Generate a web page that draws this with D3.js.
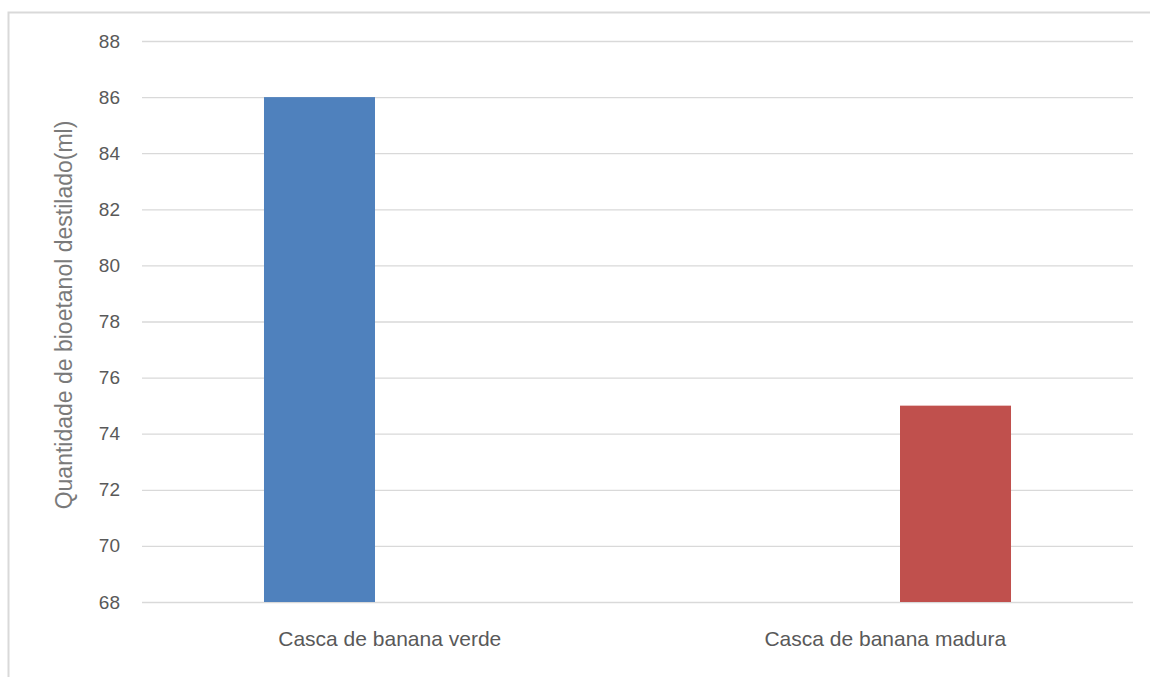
<!DOCTYPE html>
<html>
<head>
<meta charset="utf-8">
<script src="https://cdn.jsdelivr.net/npm/d3@7"></script>
<style>
  html, body { margin: 0; padding: 0; background: #fff; }
  svg { display: block; }
</style>
</head>
<body>
<svg id="chart" width="1150" height="677"></svg>
<script>
// Categories and series (each series holds a value for only one category)
const categories = ["Casca de banana verde", "Casca de banana madura"];
const seriesNames = ["Verde", "Madura"];
const seriesVerde = [86, null];
const seriesMadura = [null, 75];
const seriesColors = ["#4f81bd", "#c0504d"];
const yTicks = [68, 70, 72, 74, 76, 78, 80, 82, 84, 86, 88];
const yLabel = "Quantidade de bioetanol destilado(ml)";

const seriesValues = [seriesVerde, seriesMadura];

const svg = d3.select("#chart");
const W = 1150, H = 677;
const margin = { top: 41, right: 17, bottom: 75, left: 142 };
const innerW = W - margin.left - margin.right;
const innerH = H - margin.top - margin.bottom;

// Outer frame
svg.append("rect")
  .attr("x", 8.5).attr("y", 12.5)
  .attr("width", W + 10).attr("height", H + 10)
  .attr("fill", "none")
  .attr("stroke", "#d9d9d9")
  .attr("stroke-width", 2);

const g = svg.append("g").attr("transform", `translate(${margin.left},${margin.top})`);

const x0 = d3.scaleBand().domain(categories).range([0, innerW]).paddingInner(0).paddingOuter(0);
const groupW = x0.bandwidth() * 0.5076;
const x1 = d3.scaleBand().domain(seriesNames).range([-groupW / 2, groupW / 2]).paddingInner(0.21);
const y = d3.scaleLinear().domain([68, 88]).range([innerH, 0]);

// Horizontal gridlines
g.append("g")
  .call(d3.axisLeft(y).tickValues(yTicks).tickSize(-innerW).tickFormat(""))
  .call(a => a.select(".domain").remove())
  .call(a => a.selectAll("line").attr("stroke", "#d9d9d9").attr("stroke-width", 1.3));

// Y tick labels
g.append("g")
  .attr("transform", "translate(-22,0)")
  .call(d3.axisLeft(y).tickValues(yTicks).tickSize(0).tickPadding(0).tickFormat(d3.format("d")))
  .call(a => a.select(".domain").remove())
  .call(a => a.selectAll("text")
    .attr("fill", "#595959")
    .style("font-family", "'Liberation Sans', Arial, sans-serif")
    .style("font-size", "19px"));

// Bars
seriesValues.forEach((vals, si) => {
  g.append("g").selectAll("rect")
    .data(categories.map((c, i) => ({ c, v: vals[i] })).filter(d => d.v != null))
    .join("rect")
    .attr("x", d => x0(d.c) + x0.bandwidth() / 2 + x1(seriesNames[si]))
    .attr("width", x1.bandwidth())
    .attr("y", d => y(d.v))
    .attr("height", d => y(68) - y(d.v))
    .attr("fill", seriesColors[si]);
});

// Category labels
g.append("g")
  .attr("transform", `translate(0,${innerH})`)
  .call(d3.axisBottom(x0).tickSize(0).tickPadding(29))
  .call(a => a.select(".domain").remove())
  .call(a => a.selectAll("text")
    .attr("fill", "#595959")
    .style("font-family", "'Liberation Sans', Arial, sans-serif")
    .style("font-size", "21px"));

// Y axis title
svg.append("text")
  .attr("transform", `translate(72,315) rotate(-90)`)
  .attr("text-anchor", "middle")
  .attr("fill", "#7a7a7a")
  .style("font-family", "'Liberation Sans', Arial, sans-serif")
  .style("font-size", "23px")
  .text(yLabel);
</script>
</body>
</html>
